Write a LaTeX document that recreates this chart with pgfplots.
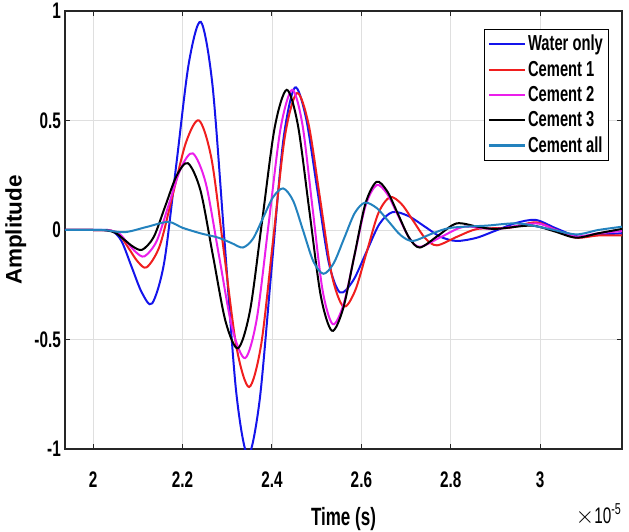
\documentclass[border=0pt]{standalone}
\usepackage{fontspec}
\setmainfont{Liberation Sans}[FakeStretch=0.68]
\newfontfamily\plainfont{Liberation Sans}
\usepackage{pgfplots}
\pgfplotsset{compat=1.18}
\definecolor{wblue}{RGB}{20,20,235}
\definecolor{cred}{RGB}{240,30,30}
\definecolor{cmag}{RGB}{235,30,235}
\definecolor{call}{RGB}{35,130,190}

\begin{document}
\begin{tikzpicture}
\begin{axis}[
  scale only axis,
  width=334.2pt,height=262.8pt,
  xmin=1.937,xmax=3.183,ymin=-1,ymax=1,
  xtick={2,2.2,2.4,2.6,2.8,3},
  ytick={-1,-0.5,0,0.5,1},
  yticklabels={-1,-0.5,0,0.5,1},
  xticklabels={2,2.2,2.4,2.6,2.8,3},
  grid=major,
  major grid style={gray!25,line width=0.4pt},
  axis line style={black!85,line width=0.7pt},
  tick align=inside,
  major tick length=3pt,
  tick style={black!85,line width=0.6pt},
  tick label style={font=\fontsize{13.5}{15}\selectfont\bfseries},
  xticklabel style={yshift=-10pt},
  yticklabel style={xshift=1pt},
  xlabel={Time (s)},
  xlabel style={font=\fontsize{15}{18}\selectfont\bfseries,yshift=-5pt},
  ylabel={Amplitude},
  ylabel style={font=\fontsize{13.5}{16}\plainfont\bfseries,yshift=-2pt},
  legend style={at={(0.977,0.959)},anchor=north east,
    font=\fontsize{13}{16}\selectfont\bfseries,
    draw=black,line width=0.6pt,inner sep=2pt,row sep=1.5pt,
    nodes={inner sep=1.5pt}},
  legend cell align=left,
  legend image code/.code={\draw[#1,line width=1.3pt] (0cm,0cm) -- (0.75cm,0cm);},
  every axis plot/.append style={line width=1.2pt,smooth},
]
% Water only
\addplot[wblue] coordinates {
 (1.937,0)(2.0,0)(2.04,-0.003)(2.063,-0.049)(2.086,-0.168)(2.109,-0.286)(2.132,-0.335)
 (2.159,-0.147)(2.1865,0.3075)(2.214,0.762)(2.241,0.95)
 (2.267,0.660)(2.2935,-0.04)(2.320,-0.740)(2.346,-1.03)
 (2.372,-0.784)(2.3985,-0.19)(2.425,0.404)(2.451,0.65)
 (2.476,0.513)(2.5015,0.1825)(2.527,-0.148)(2.552,-0.285)
 (2.5815,-0.231)(2.611,-0.1015)(2.6405,0.028)(2.670,0.082)
 (2.706,0.063)(2.7415,0.016)(2.777,-0.031)(2.813,-0.05)
 (2.857,-0.036)(2.9015,-0.002)(2.946,0.032)(2.99,0.046)
 (3.035,0.008)(3.085,-0.03)(3.13,-0.022)(3.183,-0.015)};
% Cement 1
\addplot[cred] coordinates {
 (1.937,0)(2.0,0)(2.04,-0.003)(2.06,-0.025)(2.08,-0.085)(2.10,-0.145)(2.12,-0.17)
 (2.149,-0.072)(2.1785,0.165)(2.208,0.402)(2.237,0.50)
 (2.265,0.322)(2.293,-0.1085)(2.321,-0.539)(2.349,-0.717)
 (2.376,-0.521)(2.4025,-0.046)(2.429,0.429)(2.456,0.625)
 (2.482,0.482)(2.508,0.1375)(2.534,-0.207)(2.56,-0.35)
 (2.586,-0.277)(2.612,-0.1)(2.638,0.077)(2.664,0.15)
 (2.69,0.118)(2.7165,0.04)(2.743,-0.038)(2.769,-0.07)
 (2.815,-0.03)(2.86,0.005)(2.93,0.01)(2.99,0.035)
 (3.035,0.0)(3.08,-0.035)(3.13,-0.025)(3.183,-0.025)};
% Cement 2
\addplot[cmag] coordinates {
 (1.937,0)(2.0,0)(2.04,-0.003)(2.059,-0.018)(2.0775,-0.06)(2.096,-0.102)(2.115,-0.12)
 (2.142,-0.051)(2.169,0.115)(2.196,0.281)(2.223,0.35)
 (2.252,0.213)(2.2815,-0.1175)(2.311,-0.448)(2.340,-0.585)
 (2.366,-0.406)(2.3925,0.0275)(2.419,0.461)(2.445,0.64)
 (2.468,0.483)(2.4905,0.105)(2.513,-0.273)(2.536,-0.43)
 (2.5605,-0.337)(2.585,-0.1125)(2.6095,0.112)(2.634,0.205)
 (2.658,0.164)(2.6825,0.064)(2.707,-0.036)(2.731,-0.077)
 (2.78,-0.03)(2.83,0.015)(2.9,0.005)(2.99,0.03)
 (3.035,0.0)(3.08,-0.03)(3.13,-0.015)(3.183,-0.005)};
% Cement 3
\addplot[black] coordinates {
 (1.937,0)(2.0,0)(2.03,-0.002)(2.05,-0.013)(2.07,-0.045)(2.09,-0.077)(2.11,-0.09)
 (2.1355,-0.032)(2.161,0.1075)(2.1865,0.247)(2.212,0.305)
 (2.24,0.181)(2.268,-0.1175)(2.296,-0.416)(2.324,-0.54)
 (2.351,-0.367)(2.3785,0.05)(2.406,0.467)(2.433,0.64)
 (2.458,0.479)(2.4835,0.09)(2.509,-0.299)(2.534,-0.46)
 (2.559,-0.36)(2.584,-0.12)(2.609,0.12)(2.634,0.22)
 (2.658,0.176)(2.6825,0.07)(2.707,-0.036)(2.731,-0.08)
 (2.772,-0.025)(2.813,0.03)(2.86,0.015)(2.9,0.005)(2.98,0.02)
 (3.03,-0.005)(3.08,-0.035)(3.13,-0.015)(3.183,0.005)};
% Cement all
\addplot[call] coordinates {
 (1.937,0)(2.02,0)(2.07,-0.01)(2.119,0.0135)(2.168,0.037)
 (2.2,0.01)(2.24,-0.015)(2.28,-0.035)(2.31,-0.06)(2.335,-0.08)
 (2.3575,-0.04)(2.38,0.055)(2.4025,0.15)(2.425,0.19)
 (2.4475,0.133)(2.47,-0.005)(2.4925,-0.143)(2.515,-0.20)
 (2.538,-0.152)(2.5615,-0.0375)(2.585,0.077)(2.608,0.125)
 (2.635,0.099)(2.6615,0.0375)(2.688,-0.024)(2.715,-0.05)
 (2.76,-0.015)(2.8,0.01)(2.88,0.02)(2.95,0.03)
 (3.02,0.005)(3.08,-0.02)(3.13,0.0)(3.183,0.015)};
\legend{Water only,Cement 1,Cement 2,Cement 3,Cement all}
\coordinate (bl) at (rel axis cs:0,0);
\coordinate (tr) at (rel axis cs:1,1);
\end{axis}
\node[anchor=north east,inner sep=0pt,font=\fontsize{13.5}{15}\selectfont]
  at ([yshift=-32.5pt]bl -| tr) {$\times$10\textsuperscript{-5}};
\pgfresetboundingbox
\path[use as bounding box] ([xshift=-39pt,yshift=-49.2pt]bl) rectangle ([xshift=4.2pt,yshift=6.6pt]tr);
\end{tikzpicture}
\end{document}
